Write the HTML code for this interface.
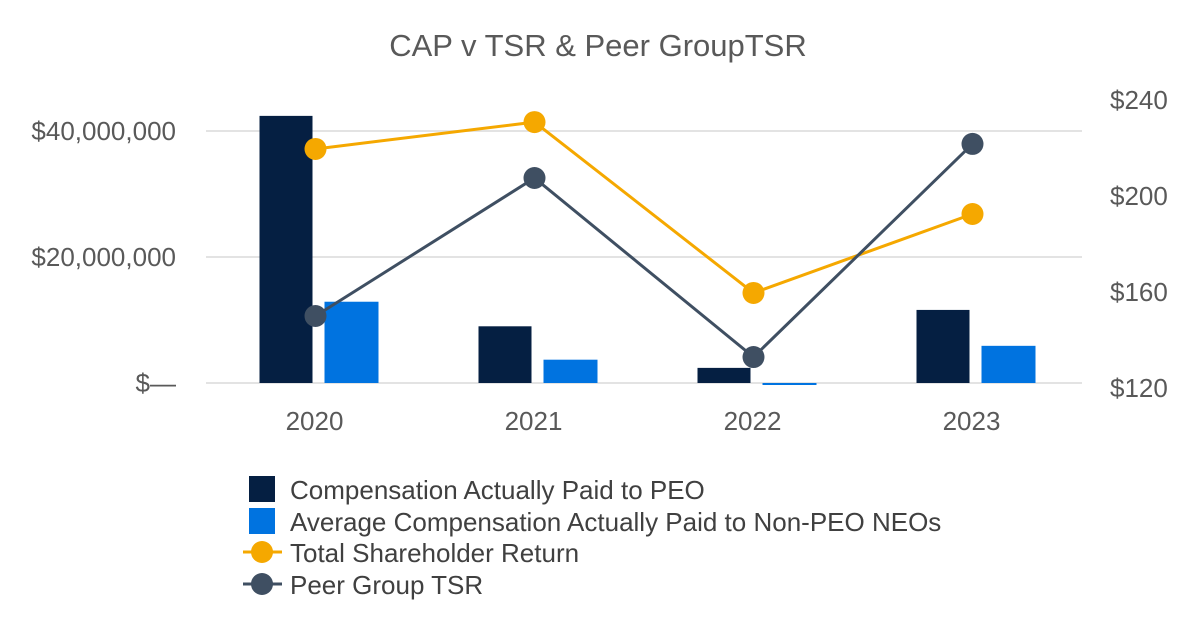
<!DOCTYPE html>
<html><head><meta charset="utf-8">
<style>
html,body{margin:0;padding:0;background:#fff;}
svg{display:block;font-family:"Liberation Sans",Arial,sans-serif;}
</style></head>
<body>
<svg id="chart" width="1200" height="640" viewBox="0 0 1200 640">
<text x="598" y="56" text-anchor="middle" font-size="31" fill="#595959">CAP v TSR &amp; Peer GroupTSR</text>
<g id="grid"></g><g id="bars"></g><g id="lines"></g><g id="axes"></g>
<g>
 <rect x="249" y="476" width="26" height="26" fill="#051f42"/>
 <text x="290" y="499" font-size="26" fill="#404040">Compensation Actually Paid to PEO</text>
 <rect x="249" y="508" width="26" height="26" fill="#0073e0"/>
 <text x="290" y="531" font-size="26" fill="#404040">Average Compensation Actually Paid to Non-PEO NEOs</text>
 <line x1="243" y1="552" x2="282" y2="552" stroke="#f5a800" stroke-width="3"/>
 <circle cx="262" cy="552" r="11" fill="#f5a800"/>
 <text x="290" y="562" font-size="26" fill="#404040">Total Shareholder Return</text>
 <line x1="243" y1="584" x2="282" y2="584" stroke="#3f4f62" stroke-width="3"/>
 <circle cx="262" cy="584" r="11" fill="#3f4f62"/>
 <text x="290" y="594" font-size="26" fill="#404040">Peer Group TSR</text>
</g>
</svg>
<script>
const categories = ["2020","2021","2022","2023"];
const peoCap = [42.4, 9.0, 2.4, 11.6];       // $M
const nonPeoCap = [12.9, 3.7, -0.3, 5.9];    // $M
const tsr = [219.6, 230.8, 159.6, 192.5];
const peerTsr = [150.0, 207.5, 132.9, 221.7];
const leftTicks = [0, 20, 40];
const leftTickLabels = ["$—", "$20,000,000", "$40,000,000"];
const rightTicks = [120, 160, 200, 240];
const rightTickLabels = ["$120", "$160", "$200", "$240"];

const NS = "http://www.w3.org/2000/svg";
const plotL = 206, band = 219;
const xc = i => plotL + band * (i + 0.5);
const yL = v => 383 - v * 6.3;
const yR = v => 388 - (v - 120) * 2.4;
function mk(tag, attrs, parent) {
  const e = document.createElementNS(NS, tag);
  for (const k in attrs) e.setAttribute(k, attrs[k]);
  document.getElementById(parent).appendChild(e);
  return e;
}
leftTicks.forEach((t, i) => {
  const g = mk("line", {x1: 206, x2: 1082, y1: yL(t), y2: yL(t), stroke: "#e3e3e3", "stroke-width": 2}, "grid");
  
  
  const l = mk("text", {x: 176, y: yL(t) + 9, "text-anchor": "end", "font-size": 26, fill: "#595959"}, "axes");
  l.textContent = leftTickLabels[i];
  
  
});
rightTicks.forEach((t, i) => {
  const l = mk("text", {x: 1110, y: yR(t) + 9, "font-size": 26, fill: "#595959"}, "axes");
  l.textContent = rightTickLabels[i];
  
  
});
categories.forEach((c, i) => {
  const l = mk("text", {x: xc(i) - 1, y: 430, "text-anchor": "middle", "font-size": 26, fill: "#595959"}, "axes");
  l.textContent = c;
  
  
  const v1 = peoCap[i];
  const b1 = mk("rect", {x: xc(i) - 56, width: 53, y: Math.min(yL(v1), yL(0)), height: Math.abs(yL(v1) - yL(0)), fill: "#051f42"}, "bars");
  
  
  const v2 = nonPeoCap[i];
  const b2 = mk("rect", {x: xc(i) + 9, width: 54, y: Math.min(yL(v2), yL(0)), height: Math.max(2, Math.abs(yL(v2) - yL(0))), fill: "#0073e0"}, "bars");
  
  
});
function series(vals, color, name) {
  const pts = vals.map((v, i) => xc(i) + "," + yR(v)).join(" ");
  const pl = mk("polyline", {points: pts, fill: "none", stroke: color, "stroke-width": 3}, "lines");
  
  
  vals.forEach((v, i) => {
    const c = mk("circle", {cx: xc(i), cy: yR(v), r: 11, fill: color}, "lines");
    
    
  });
}
series(tsr, "#f5a800", "tsr");
series(peerTsr, "#3f4f62", "peer-tsr");
</script>
</body></html>
